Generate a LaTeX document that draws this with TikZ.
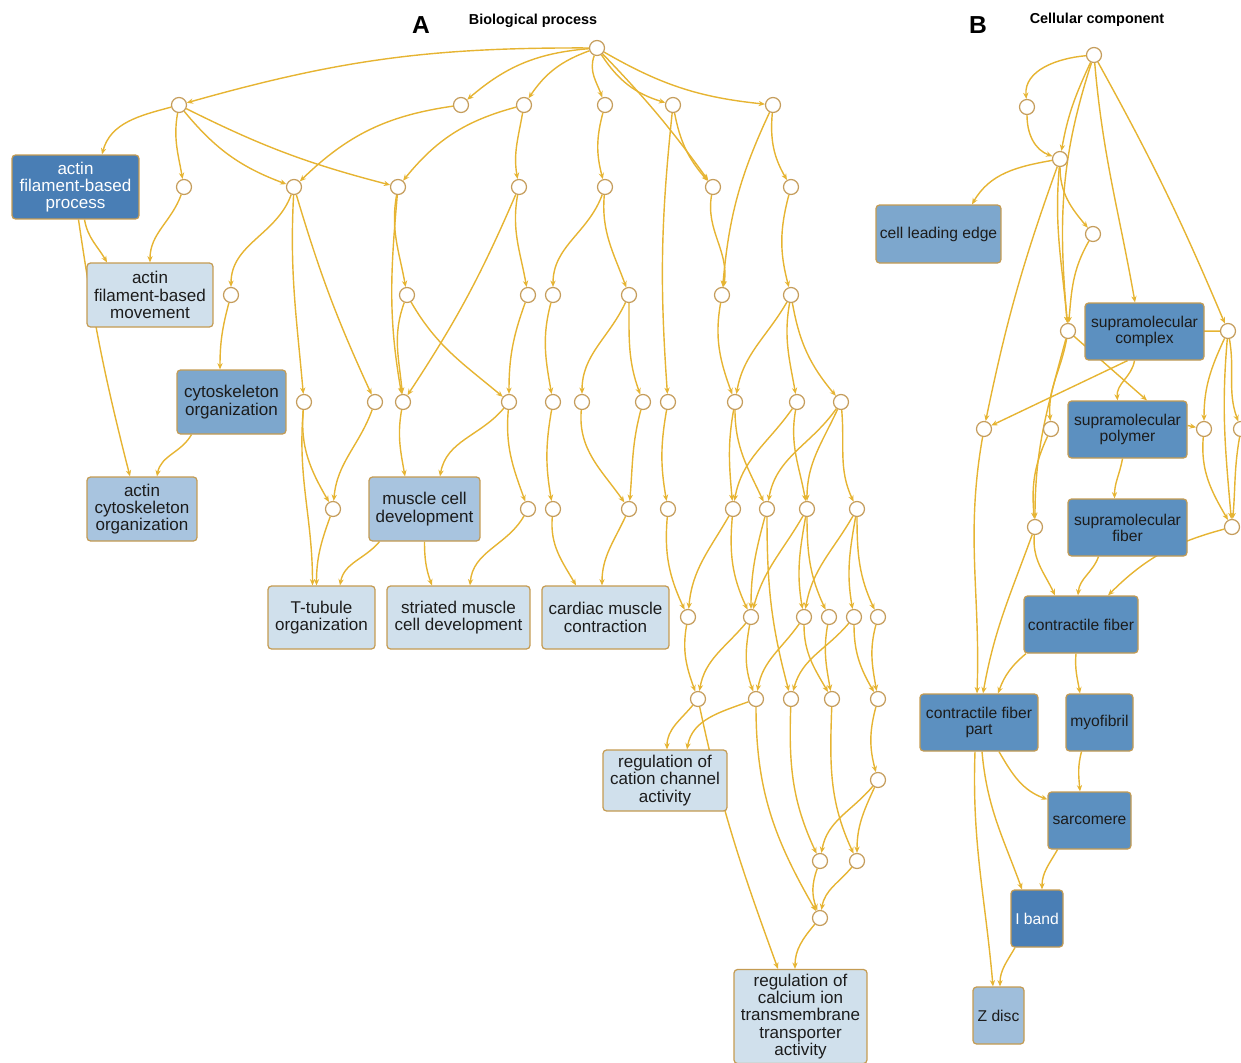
\documentclass[tikz,border=0pt]{standalone}
\usepackage{fontspec}
\setmainfont{Liberation Sans}
\usetikzlibrary{arrows.meta,calc,backgrounds}
\definecolor{wire}{HTML}{E6B432}
\definecolor{rim}{HTML}{C59D5C}
\definecolor{frame}{HTML}{C49B52}
\definecolor{deep}{HTML}{497EB5}
\definecolor{mid}{HTML}{5C90C0}
\definecolor{soft}{HTML}{7DA7CD}
\definecolor{pale}{HTML}{A8C4DF}
\definecolor{faint}{HTML}{D0E0EC}
\definecolor{txt}{HTML}{1C1C1C}

\begin{document}
\begin{tikzpicture}[
    x=0.02cm, y=0.02cm,
    edge/.style={draw=wire, line width=0.8pt, -{Stealth[length=3.6pt,width=3pt]}},
    dot/.style={circle, draw=rim, fill=white, line width=0.7pt, minimum size=0.3cm, inner sep=0pt},
    term/.style={rectangle, rounded corners=2pt, draw=frame, line width=0.7pt, align=center, text=txt, inner sep=1pt, font=\fontsize{9.7}{9.8}\selectfont},
    cterm/.style={term, fill=mid, minimum height=1.14cm, font=\fontsize{8.9}{9.2}\selectfont},
    heading/.style={font=\bfseries\fontsize{8.2}{9}\selectfont},
    letter/.style={font=\bfseries\fontsize{14}{16}\selectfont},
  ]
\useasboundingbox (0,0) rectangle (1241,-1062);

% --- Titles ---------------------------------------------------------------
\node[letter] (lblA) at (421,-25) {A};
\node[heading] (ttlA) at (533,-21) {Biological process};
\node[letter] (lblB) at (978,-25) {B};
\node[heading] (ttlB) at (1097,-20) {Cellular component};

% --- A: unlabelled terms --------------------------------------------------
\foreach \n/\x/\y in {R/597/48,
    a1/179/105, a2/461/105, a3/524/105, a4/605/105, a5/673/105, a6/773/105,
    b1/184/187, b2/294/187, b3/398/187, b4/519/187, b5/605/187, b6/713/187, b7/791/187,
    c1/231/295, c2/407/295, c3/528/295, c4/553/295, c5/629/295, c6/722/295, c7/791/295,
    d1/304/402, d2/375/402, d3/403/402, d4/509/402, d5/553/402, d6/582/402, d7/643/402,
    d8/668/402, d9/735/402, d10/797/402, d11/841/402,
    e1/333/509, e2/528/509, e3/553/509, e4/629/509, e5/668/509, e6/733/509, e7/767/509,
    e8/807/509, e9/857/509,
    f1/688/617, f2/751/617, f3/804/617, f4/829/617, f5/854/617, f6/878/617,
    g1/698/699, g2/756/699, g3/791/699, g4/832/699, g5/878/699,
    h1/878/780, i1/820/861, i2/857/861, j1/820/918}
  \node[dot] (\n) at (\x,-\y) {};

% --- A: labelled terms ----------------------------------------------------
\node[term, fill=deep, text=white, minimum width=2.54cm, minimum height=1.28cm] (afbp) at (75.5,-187) {actin\\filament-based\\process};
\node[term, fill=faint, minimum width=2.52cm, minimum height=1.28cm] (afbm) at (150,-295) {actin\\filament-based\\movement};
\node[term, fill=soft, minimum width=2.18cm, minimum height=1.28cm] (cyto) at (231.5,-402) {cytoskeleton\\organization};
\node[term, fill=pale, minimum width=2.2cm, minimum height=1.28cm] (aco) at (142,-509) {actin\\cytoskeleton\\organization};
\node[term, fill=pale, minimum width=2.22cm, minimum height=1.28cm] (mcd) at (424.5,-509) {muscle cell\\development};
\node[term, fill=faint, minimum width=2.14cm, minimum height=1.26cm] (tt) at (321.5,-617.5) {T-tubule\\organization};
\node[term, fill=faint, minimum width=2.86cm, minimum height=1.26cm] (smcd) at (458.5,-617.5) {striated muscle\\cell development};
\node[term, fill=faint, minimum width=2.54cm, minimum height=1.26cm] (cmc) at (605.5,-617.5) {cardiac muscle\\contraction};
\node[term, fill=faint, minimum width=2.48cm, minimum height=1.22cm] (rcca) at (665,-780.5) {regulation of\\cation channel\\activity};
\node[term, fill=faint, minimum width=2.66cm, minimum height=1.88cm] (rcita) at (800.5,-1016.5) {regulation of\\calcium ion\\transmembrane\\transporter\\activity};

% --- B: unlabelled terms --------------------------------------------------
\foreach \n/\x/\y in {k0/1094/55, k1/1027/107, k2/1060/159, k3/1093/234, k4/1068/331,
    k5/1228/331, k6/984/429, k7/1051/429, k8/1204/429, k9/1241/429, k10/1035/527, k11/1232/527}
  \node[dot] (\n) at (\x,-\y) {};

% --- B: labelled terms ----------------------------------------------------
\node[cterm, fill=soft, minimum width=2.5cm, minimum height=1.16cm] (cle) at (938.5,-234) {cell leading edge};
\node[cterm, minimum width=2.38cm] (sc) at (1144.5,-331.5) {supramolecular\\complex};
\node[cterm, minimum width=2.38cm] (sp) at (1127.5,-429.5) {supramolecular\\polymer};
\node[cterm, minimum width=2.38cm] (sf) at (1127.5,-527.5) {supramolecular\\fiber};
\node[cterm, minimum width=2.28cm] (cf) at (1081,-624.5) {contractile fiber};
\node[cterm, minimum width=2.36cm] (cfp) at (979,-722.5) {contractile fiber\\part};
\node[cterm, minimum width=1.34cm] (myo) at (1099.5,-722.5) {myofibril};
\node[cterm, minimum width=1.66cm] (sarc) at (1089.5,-820.5) {sarcomere};
\node[cterm, fill=deep, text=white, minimum width=1.04cm] (ib) at (1037,-918.5) {I band};
\node[cterm, fill=pale!80!soft, minimum width=1.02cm] (zd) at (998.5,-1015.5) {Z disc};

\begin{scope}[on background layer]
% --- A: links from the root and the first rows ----------------------------
\draw[edge] (R) to[bend right=8] (a1);
\draw[edge] (R) to[bend right=18] (a2);
\draw[edge] (R) to[bend right=18] (a3);
\draw[edge] (R) to[out=-110,in=110] (a4);
\draw[edge] (R) to[bend right=20] (a5);
\draw[edge] (R) to[bend right=12] (a6);
\draw[edge] (R) to[bend left=4] (b6);
\draw[edge] (a1) to[out=195,in=75] ($(afbp.north)+(26.5,0)$);
\draw[edge] (a1) to[out=-100,in=100] (b1);
\draw[edge] (a1) to[bend right=15] (b2);
\draw[edge] (a1) to[bend right=6] (b3);
\draw[edge] (a2) to[bend right=18] (b2);
\draw[edge] (a3) to[bend right=18] (b3);
\draw[edge] (a3) to[out=-100,in=100] (b4);
\draw[edge] (a4) to[out=-105,in=105] (b5);
\draw[edge] (a5) to[bend right=15] (b6);
\draw[edge] (a5) to[bend right=5] (d8);
\draw[edge] (a6) to[out=-95,in=120] (b7);
\draw[edge] (a6) to[bend right=10] (c6);
\draw[edge] (b6) to[out=-100,in=80] (c6);
\draw[edge] (b7) to[out=-105,in=105] (c7);
% --- A: middle rows --------------------------------------------------------
\draw[edge] ($(afbp.south)+(9,0)$) to[out=-80,in=120] ($(afbm.north)+(-43,0)$);
\draw[edge] ($(afbp.south)+(3,0)$) to[bend right=3] ($(aco.north)+(-12,0)$);
\draw[edge] (b1) to[out=-110,in=90] (afbm.north);
\draw[edge] (b2) to[out=-110,in=90] (c1);
\draw[edge] (b2) to[out=-93,in=95] (d1);
\draw[edge] (b2) to[bend right=4] (d2);
\draw[edge] (b3) to[out=-100,in=100] (c2);
\draw[edge] (b3) to[out=-95,in=100] (d3);
\draw[edge] (c2) to[out=-110,in=95] (d3);
\draw[edge] (c2) to[out=-60,in=140] (d4);
\draw[edge] (b4) to[bend left=5] (d3);
\draw[edge] (b4) to[out=-100,in=100] (c3);
\draw[edge] (b5) to[out=-110,in=90] (c4);
\draw[edge] (b5) to[out=-95,in=110] (c5);
\draw[edge] (c1) to[out=-105,in=90] ($(cyto.north)+(-11.5,0)$);
\draw[edge] (c3) to[out=-110,in=90] (d4);
\draw[edge] (c4) to[out=-105,in=100] (d5);
\draw[edge] (c5) to[out=-115,in=90] (d6);
\draw[edge] (c5) to[out=-90,in=110] (d7);
\draw[edge] (c6) to[out=-100,in=110] (d9);
\draw[edge] (c7) to[out=-120,in=80] (d9);
\draw[edge] (c7) to[out=-100,in=100] (d10);
\draw[edge] (c7) to[out=-80,in=130] (d11);
\draw[edge] ($(cyto.south)+(-40,0)$) to[out=-120,in=80] ($(aco.north)+(15,0)$);
\draw[edge] (d1) to[out=-95,in=120] (e1);
\draw[edge] (d1) to[out=-95,in=90] ($(tt.north)+(-9,0)$);
\draw[edge] (d2) to[out=-110,in=85] (e1);
\draw[edge] (e1) to[out=-110,in=90] ($(tt.north)+(-5,0)$);
\draw[edge] (d3) to[out=-100,in=100] ($(mcd.north)+(-19.5,0)$);
\draw[edge] (d4) to[out=-130,in=80] ($(mcd.north)+(15.5,0)$);
\draw[edge] (d4) to[out=-95,in=110] (e2);
\draw[edge] (mcd.south) to[out=-90,in=110] ($(smcd.north)+(-26.5,0)$);
\draw[edge] ($(mcd.south)+(-45,0)$) to[out=-130,in=80] ($(tt.north)+(18.5,0)$);
\draw[edge] (e2) to[out=-120,in=85] ($(smcd.north)+(11.5,0)$);
\draw[edge] (d5) to[out=-100,in=100] (e3);
\draw[edge] (e3) to[out=-95,in=120] ($(cmc.north)+(-29.5,0)$);
\draw[edge] (d6) to[out=-95,in=125] (e4);
\draw[edge] (d7) to[out=-105,in=85] (e4);
\draw[edge] (e4) to[out=-115,in=90] ($(cmc.north)+(-3.5,0)$);
\draw[edge] (d8) to[out=-100,in=100] (e5);
\draw[edge] (e5) to[out=-95,in=115] (f1);
% --- A: the regulation branch ----------------------------------------------
\draw[edge] (d9) to[out=-100,in=95] (e6);
\draw[edge] (d9) to[out=-90,in=115] (e7);
\draw[edge] (d10) to[out=-125,in=80] (e6);
\draw[edge] (d10) to[out=-100,in=100] (e8);
\draw[edge] (d11) to[out=-125,in=80] (e7);
\draw[edge] (d11) to[out=-115,in=90] (e8);
\draw[edge] (d11) to[out=-85,in=115] (e9);
\draw[edge] (e6) to[out=-120,in=85] (f1);
\draw[edge] (e6) to[out=-95,in=115] (f2);
\draw[edge] (e7) to[out=-105,in=90] (f2);
\draw[edge] (e7) to[out=-90,in=105] (g3);
\draw[edge] (e8) to[out=-120,in=75] (f2);
\draw[edge] (e8) to[out=-100,in=100] (f3);
\draw[edge] (e8) to[out=-90,in=115] (f4);
\draw[edge] (e9) to[out=-120,in=80] (f3);
\draw[edge] (e9) to[out=-100,in=100] (f5);
\draw[edge] (e9) to[out=-90,in=115] (f6);
\draw[edge] (f1) to[out=-100,in=110] (g1);
\draw[edge] (f2) to[out=-130,in=80] (g1);
\draw[edge] (f2) to[out=-100,in=110] (g2);
\draw[edge] (f3) to[out=-125,in=80] (g2);
\draw[edge] (f3) to[out=-90,in=120] (g4);
\draw[edge] (f4) to[out=-100,in=100] (g4);
\draw[edge] (f5) to[out=-130,in=75] (g3);
\draw[edge] (f5) to[out=-90,in=120] (g5);
\draw[edge] (f6) to[out=-105,in=100] (g5);
\draw[edge] (g1) to[out=-130,in=90] ($(rcca.north)+(2,0)$);
\draw[edge] (g2) to[out=-160,in=80] ($(rcca.north)+(22,0)$);
\draw[edge] (g1) to[out=-78,in=110] ($(rcita.north)+(-22.5,0)$);
\draw[edge] (g2) to[out=-90,in=120] (j1);
\draw[edge] (g3) to[out=-92,in=115] (i1);
\draw[edge] (g4) to[out=-92,in=115] (i2);
\draw[edge] (g5) to[out=-105,in=105] (h1);
\draw[edge] (h1) to[out=-130,in=80] (i1);
\draw[edge] (h1) to[out=-115,in=90] (i2);
\draw[edge] (i1) to[out=-110,in=110] (j1);
\draw[edge] (i2) to[out=-130,in=80] (j1);
\draw[edge] (j1) to[out=-130,in=90] ($(rcita.north)+(-5.5,0)$);

% --- B ----------------------------------------------------------------------
\draw[edge] (k0) to[out=185,in=95] (k1);
\draw[edge] (k0) to[out=-115,in=80] (k2);
\draw[edge] (k0) to[out=-108,in=95] (k4);
\draw[edge] (k0) to[out=-85,in=100] ($(sc.north)+(-9.5,0)$);
\draw[edge] (k0) to[bend left=3] (k5);
\draw[edge] (k1) to[out=-90,in=160] (k2);
\draw[edge] (k2) to[out=190,in=60] ($(cle.north)+(33.5,0)$);
\draw[edge] (k2) to[out=-90,in=130] (k3);
\draw[edge] (k2) to[out=-95,in=95] (k4);
\draw[edge] (k2) to[bend right=4] (k6);
\draw[edge] (k3) to[out=-120,in=85] (k4);
\draw[edge] (k4) -- ($(sp.north)+(19.5,0)$);
\draw[edge] (k4) to[out=-100,in=95] (k7);
\draw[edge] (k4) to[out=-105,in=90] (k10);
\draw[edge] (k7) to[out=-115,in=95] (k10);
\draw[edge] ($(sc.south)+(-17,0)$) -- (k6);
\draw[edge] ($(sc.south)+(-10,0)$) to[out=-100,in=95] ($(sp.north)+(-10,0)$);
\draw[edge] (k5) -- (sc.center);
\draw[edge] (k5) to[out=-115,in=90] (k8);
\draw[edge] (k5) to[out=-80,in=110] (k9);
\draw[edge] (k5) to[out=-95,in=95] (k11);
\draw[edge] ($(sp.east)+(0,4)$) -- (k8);
\draw[edge] ($(sp.south)+(-5,0)$) to[out=-100,in=90] ($(sf.north)+(-13,0)$);
\draw[edge] (k8) to[out=-95,in=120] (k11);
\draw[edge] (k9) to[out=-100,in=85] (k11);
\draw[edge] (k10) to[out=-95,in=115] ($(cf.north)+(-26,0)$);
\draw[edge] (k10) to[out=-110,in=80] ($(cfp.north)+(4,0)$);
\draw[edge] (k6) to[out=-100,in=88] ($(cfp.north)+(-2,0)$);
\draw[edge] ($(sf.south)+(-29,0)$) to[out=-110,in=85] ($(cf.north)+(-3,0)$);
\draw[edge] (k11) to[out=195,in=45] ($(cf.north)+(27,0)$);
\draw[edge] ($(cf.south)+(-55,0)$) to[out=-140,in=70] ($(cfp.north)+(19,0)$);
\draw[edge] ($(cf.south)+(-5,0)$) to[out=-95,in=100] ($(myo.north)+(-19.5,0)$);
\draw[edge] ($(cfp.south)+(20,0)$) to[out=-60,in=160] ($(sarc.north west)+(0,-8)$);
\draw[edge] ($(cfp.south)+(3,0)$) to[out=-85,in=110] ($(ib.north)+(-15,0)$);
\draw[edge] ($(cfp.south)+(-4,0)$) to[out=-92,in=95] ($(zd.north)+(-5.5,0)$);
\draw[edge] ($(myo.south)+(-18,0)$) to[out=-105,in=95] ($(sarc.north)+(-9.5,0)$);
\draw[edge] ($(sarc.south)+(-32,0)$) to[out=-120,in=90] ($(ib.north)+(5,0)$);
\draw[edge] ($(ib.south)+(-22,0)$) to[out=-120,in=90] ($(zd.north)+(1.5,0)$);
\end{scope}
\end{tikzpicture}
\end{document}
